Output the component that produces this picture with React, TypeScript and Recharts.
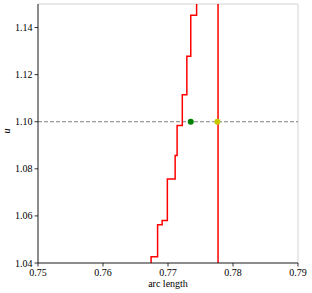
import { ComposedChart, Line, Scatter, XAxis, YAxis, CartesianGrid, ReferenceLine, Label } from 'recharts'

// staircase: vertical rise at stepX[i] up to level[i], then flat to the next step
const stepX = [0.7674, 0.7674, 0.7684, 0.7691, 0.7699, 0.7711, 0.7714, 0.7722, 0.7729, 0.7735, 0.7744]
const level = [1.03, 1.0427, 1.0562, 1.058, 1.0757, 1.0857, 1.0984, 1.1115, 1.1278, 1.1452, 1.17]

const crossX = 0.7777
const targetU = 1.1
const greenPt = [{ x: 0.7735, y: 1.1 }]
const yellowPt = [{ x: 0.7776, y: 1.1 }]

const xTicks = [0.75, 0.76, 0.77, 0.78, 0.79]
const yTicks = [1.04, 1.06, 1.08, 1.1, 1.12, 1.14]

const stairs = stepX.map((x, i) => ({ x, y: level[i] }))

const serif = '"Liberation Serif", "DejaVu Serif", serif'
const font = { fontFamily: serif, fontSize: 10, fill: '#000' }

const dot = (color: string) => (p: any) => <circle cx={p.cx} cy={p.cy} r={3} fill={color} />

export default function App() {
  return (
    <div style={{ position: 'absolute', left: 0, top: 0, fontFamily: serif }}>
      <ComposedChart width={312} height={293} margin={{ top: 4, right: 14, bottom: 0, left: 0 }} style={{ fontFamily: serif }}>
        <CartesianGrid stroke="#c8c8c8" strokeWidth={0.8} />
        <XAxis
          xAxisId="b"
          type="number"
          dataKey="x"
          domain={[0.75, 0.79]}
          ticks={xTicks}
          allowDataOverflow
          tickFormatter={(v: number) => v.toFixed(2)}
          tick={font}
          tickSize={3.5}
          tickMargin={2}
          height={30}
          stroke="#000"
          strokeWidth={0.8}
        >
          <Label value="arc length" position="insideBottom" offset={6} style={font} />
        </XAxis>
        <XAxis xAxisId="t" orientation="top" type="number" domain={[0.75, 0.79]} height={0} tick={false} tickLine={false} stroke="#000" strokeWidth={0.8} />
        <YAxis
          yAxisId="l"
          type="number"
          dataKey="y"
          domain={[1.04, 1.15]}
          ticks={yTicks}
          allowDataOverflow
          tickFormatter={(v: number) => v.toFixed(2)}
          tick={font}
          tickSize={3.5}
          tickMargin={2}
          width={38}
          stroke="#000"
          strokeWidth={0.8}
        >
          <Label value="u" angle={-90} position="insideLeft" offset={6} style={{ ...font, fontStyle: 'italic' }} />
        </YAxis>
        <YAxis yAxisId="r" orientation="right" type="number" domain={[1.04, 1.15]} width={0} tick={false} tickLine={false} stroke="#000" strokeWidth={0.8} />
        <ReferenceLine xAxisId="b" yAxisId="l" y={targetU} stroke="#808080" strokeWidth={1} strokeDasharray="4 2" />
        <Line
          xAxisId="b"
          yAxisId="l"
          data={stairs}
          dataKey="y"
          type="stepAfter"
          stroke="#ff0000"
          strokeWidth={1.5}
          dot={false}
          isAnimationActive={false}
        />
        <ReferenceLine xAxisId="b" yAxisId="l" x={crossX} stroke="#ff0000" strokeWidth={1.5} />
        <Scatter xAxisId="b" yAxisId="l" data={greenPt} fill="#008000" shape={dot('#008000')} isAnimationActive={false} />
        <Scatter xAxisId="b" yAxisId="l" data={yellowPt} fill="#bfbf00" shape={dot('#c8c800')} isAnimationActive={false} />
      </ComposedChart>
    </div>
  )
}
